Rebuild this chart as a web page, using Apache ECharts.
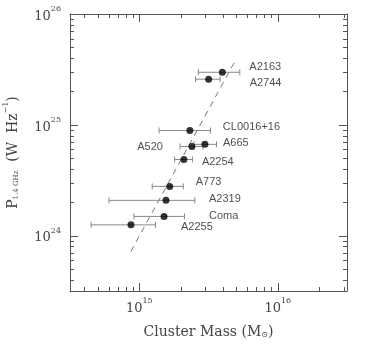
<!DOCTYPE html>
<html>
<head>
<meta charset="utf-8">
<script src="https://cdn.jsdelivr.net/npm/echarts@6/dist/echarts.min.js"></script>
<style>html,body{margin:0;padding:0;background:#fff}#c{width:382px;height:361px}</style>
</head>
<body>
<div id="c"></div>
<script>
// ---- data ----
const clusters = ['A2163','A2744','CL0016+16','A665','A520','A2254','A773','A2319','Coma','A2255'];
const mass     = [3.98e15, 3.17e15, 2.32e15, 2.98e15, 2.40e15, 2.10e15, 1.66e15, 1.56e15, 1.51e15, 8.71e14];
const massLo   = [2.67e15, 2.55e15, 1.39e15, 2.48e15, 1.97e15, 1.80e15, 1.24e15, 6.05e14, 9.16e14, 4.49e14];
const massHi   = [5.32e15, 3.83e15, 3.27e15, 3.61e15, 2.88e15, 2.42e15, 2.08e15, 2.52e15, 2.12e15, 1.31e15];
const power    = [2.98e25, 2.58e25, 8.89e24, 6.66e24, 6.38e24, 4.86e24, 2.78e24, 2.08e24, 1.49e24, 1.25e24];
const fitMass  = [8.7e14, 4.97e15];
const fitPower = [7.2e23, 3.85e25];
const xMajorTicks = [1e15, 1e16];
const yMajorTicks = [1e24, 1e25, 1e26];
const xLabelTicks = [1e15, 1e16];
const yLabelTicks = [1e24, 1e25, 0.99999e26];
const xMinorTicks = [4e14,5e14,6e14,7e14,8e14,9e14,2e15,3e15,4e15,5e15,6e15,7e15,8e15,9e15,2e16,3e16];
const yMinorTicks = [4e23,5e23,6e23,7e23,8e23,9e23,2e24,3e24,4e24,5e24,6e24,7e24,8e24,9e24,2e25,3e25,4e25,5e25,6e25,7e25,8e25,9e25];
const xMin = Math.pow(10, 14.5), xMax = Math.pow(10, 16.5);
const yMin = Math.pow(10, 23.5), yMax = 1e26;

// ---- label placement (pixels, relative to the point) ----
const labelOffsets = {
  'A2163': [27, -5, 'left'], 'A2744': [41, 4, 'left'], 'CL0016+16': [33, -3, 'left'],
  'A665': [18, -1, 'left'], 'A520': [-29, 1, 'right'], 'A2254': [18, 2, 'left'],
  'A773': [26, -4, 'left'], 'A2319': [43, -1, 'left'], 'Coma': [45, 0, 'left'], 'A2255': [50, 2, 'left']
};

(function () {
const serif = 'DejaVu Serif';
const axisColor = '#555';
const txtColor = '#444';
const labelRich = {
  b: { fontFamily: serif, fontSize: 13, color: txtColor, verticalAlign: 'bottom', lineHeight: 18 },
  s: { fontFamily: serif, fontSize: 8, color: txtColor, verticalAlign: 'top', lineHeight: 18 }
};
const powFmt = v => '{b|10}{s|' + Math.round(Math.log10(v)) + '}';

function mkAxis(pos, isX, withLabel) {
  return {
    type: 'log', logBase: 10, position: pos,
    min: isX ? xMin : yMin, max: isX ? xMax : yMax,
    splitLine: { show: false },
    axisLine: { show: true, lineStyle: { color: axisColor, width: 1 } },
    axisTick: { show: false },
    axisLabel: withLabel ? { show: true, customValues: isX ? xLabelTicks : yLabelTicks,
      formatter: powFmt, rich: labelRich, margin: isX ? 6 : 9 } : { show: false }
  };
}

const xAxes = [
  Object.assign(mkAxis('bottom', true, true), {
    name: '{t|Cluster Mass (M}{sub|⊙}{t|)}', nameLocation: 'middle', nameGap: 32,
    nameTextStyle: { rich: {
      t: { fontFamily: serif, fontSize: 14, color: txtColor, verticalAlign: 'bottom', lineHeight: 16 },
      sub: { fontFamily: serif, fontSize: 8, color: txtColor, verticalAlign: 'bottom', lineHeight: 9 }
    } }
  }),
  mkAxis('top', true, false)
];
const yAxes = [
  Object.assign(mkAxis('left', false, true), {
    name: '{t|P}{sub|1.4 GHz}{t|  (W  Hz}{sup|−1}{t|)}', nameLocation: 'middle', nameGap: 50, nameRotate: 90,
    nameTextStyle: { rich: {
      t: { fontFamily: serif, fontSize: 14, color: txtColor, verticalAlign: 'bottom', lineHeight: 18 },
      sub: { fontFamily: serif, fontSize: 7, color: txtColor, verticalAlign: 'bottom', lineHeight: 10 },
      sup: { fontFamily: serif, fontSize: 8, color: txtColor, verticalAlign: 'top', lineHeight: 12 }
    } }
  }),
  mkAxis('right', false, false)
];

const points = clusters.map((n, i) => {
  const o = labelOffsets[n];
  return {
    name: n, value: [mass[i], power[i]],
    label: { show: true, formatter: n, position: [3.5 + o[0], 3.5 + o[1]], align: o[2], verticalAlign: 'middle',
      fontFamily: 'Liberation Sans', fontSize: 11, color: '#222' }
  };
});
const errData = clusters.map((n, i) => [mass[i], power[i], massLo[i], massHi[i]]);

const chart = echarts.init(document.getElementById('c'), null, { renderer: 'canvas' });
chart.setOption({
  animation: false,
  backgroundColor: '#fff',
  grid: { left: 70, top: 14, width: 277, height: 277, containLabel: false, outerBoundsMode: 'none' },
  xAxis: xAxes,
  yAxis: yAxes,
  series: [
    {
      type: 'line', data: fitMass.map((m, i) => [m, fitPower[i]]), showSymbol: false, symbol: 'none',
      lineStyle: { color: '#777', width: 1, type: [6, 5] }, z: 1
    },
    {
      type: 'custom', data: errData, z: 2,
      renderItem: (params, api) => {
        const y = api.value(1);
        const a = api.coord([api.value(2), y]);
        const b = api.coord([api.value(3), y]);
        const st = { stroke: '#888', lineWidth: 1 };
        return { type: 'group', children: [
          { type: 'line', shape: { x1: a[0], y1: a[1], x2: b[0], y2: b[1] }, style: st },
          { type: 'line', shape: { x1: a[0], y1: a[1] - 3, x2: a[0], y2: a[1] + 3 }, style: st },
          { type: 'line', shape: { x1: b[0], y1: b[1] - 3, x2: b[0], y2: b[1] + 3 }, style: st }
        ] };
      }
    },
    {
      type: 'scatter', data: points, symbol: 'circle', symbolSize: 7, z: 3,
      itemStyle: { color: '#000' }
    }
  ]
});

// tick marks inside the frame, placed through the axis scales
const toX = v => chart.convertToPixel({ xAxisIndex: 0 }, v);
const toY = v => chart.convertToPixel({ yAxisIndex: 0 }, v);
const frameL = toX(xMin), frameR = toX(xMax), frameB = toY(yMin), frameT = toY(yMax);
const gEls = [];
const tStyle = () => ({ stroke: axisColor, lineWidth: 1 });
function addX(vals, len) {
  vals.forEach(v => {
    const x = Math.round(toX(v)) + 0.5;
    gEls.push({ type: 'line', z: 10, shape: { x1: x, y1: frameB, x2: x, y2: frameB - len }, style: tStyle() });
    gEls.push({ type: 'line', z: 10, shape: { x1: x, y1: frameT, x2: x, y2: frameT + len }, style: tStyle() });
  });
}
function addY(vals, len) {
  vals.forEach(v => {
    const y = Math.round(toY(v)) + 0.5;
    gEls.push({ type: 'line', z: 10, shape: { x1: frameL, y1: y, x2: frameL + len, y2: y }, style: tStyle() });
    gEls.push({ type: 'line', z: 10, shape: { x1: frameR, y1: y, x2: frameR - len, y2: y }, style: tStyle() });
  });
}
addX(xMajorTicks, 8); addX(xMinorTicks, 4); addY(yMajorTicks, 8); addY(yMinorTicks, 4);
chart.setOption({ graphic: { elements: gEls } });
})();
</script>
</body>
</html>
